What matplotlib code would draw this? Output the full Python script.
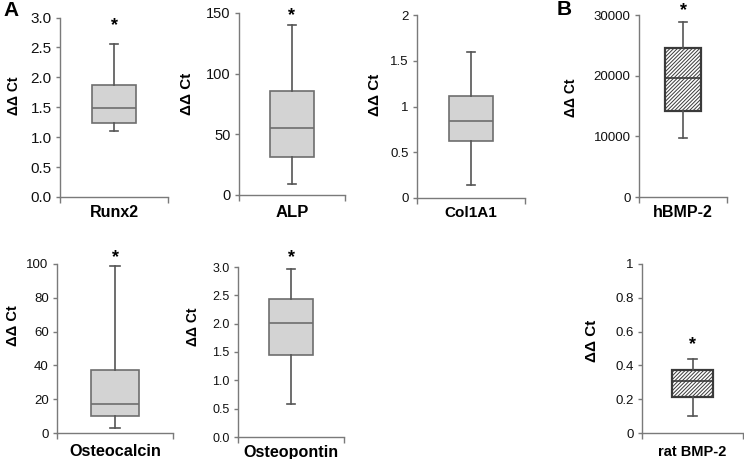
import matplotlib.pyplot as plt
import matplotlib.transforms as mtransforms
from matplotlib.ticker import MultipleLocator, FormatStrFormatter

plt.rcParams['font.family'] = ['Liberation Sans', 'DejaVu Sans']
plt.rcParams['hatch.linewidth'] = 0.7

# qPCR fold change (delta-delta Ct) box plots
genes = ["Runx2", "ALP", "Col1A1", "hBMP-2", "Osteocalcin", "Osteopontin", "rat BMP-2"]
whisker_low = [1.10, 9, 0.14, 9700, 3, 0.58, 0.10]
q1 = [1.23, 31, 0.62, 14200, 10, 1.45, 0.215]
median = [1.48, 55, 0.84, 19600, 17, 2.01, 0.31]
q3 = [1.87, 86, 1.12, 24500, 37, 2.44, 0.375]
whisker_high = [2.55, 140, 1.60, 28800, 99, 2.97, 0.44]
star_y = [2.93, 151.2, None, 31400, 106.2, 3.24, 0.547]
y_max = [3, 150, 2, 30000, 100, 3, 1]
y_step = [0.5, 50, 0.5, 10000, 20, 0.5, 0.2]
tick_fmt = ["%.1f", "%d", "%g", "%d", "%d", "%.1f", "%g"]
hatched = [False, False, False, True, False, False, True]

# panel boxes in pixels: left, top, right, bottom
W, H = 744, 459
rects = [(60, 17.5, 168, 197), (239, 13, 345, 195), (417, 15, 525, 198),
         (639, 15, 727, 197), (57, 264, 173, 433), (238, 267, 344, 437),
         (642, 264, 743, 433)]
ylab_xy = [(14, 96), (187, 94), (375, 95), (571, 98), (13, 326), (193, 327), (592, 341)]
xlab_base = [217, 217, 217, 217, 456.5, 456.5, 456.5]
tick_size = [11, 10.5, 9.5, 9.5, 9.5, 9, 9.5]
xlab_size = [11.5, 12, 11, 11.5, 11.7, 11.6, 10.5]
ylab_size = [10, 11, 11, 10, 10.5, 10, 11]

fig = plt.figure(figsize=(W / 100, H / 100), dpi=100)
axis_col = "#7a7a7a"

for i, gene in enumerate(genes):
    l, t, r, b = rects[i]
    ax = fig.add_axes([l / W, 1 - b / H, (r - l) / W, (b - t) / H])
    stats = [{"whislo": whisker_low[i], "q1": q1[i], "med": median[i],
              "q3": q3[i], "whishi": whisker_high[i], "fliers": []}]
    if hatched[i]:
        edge, face, lw = "#3a3a3a", "white", 1.6
    else:
        edge, face, lw = "#6e6e6e", "#d3d3d3", 1.2
    ax.bxp(stats, positions=[0], widths=0.41, capwidths=0.08,
           patch_artist=True, showfliers=False,
           boxprops=dict(facecolor=face, edgecolor=edge, linewidth=lw,
                         hatch="/////////" if hatched[i] else None),
           medianprops=dict(color=edge, linewidth=1.2),
           whiskerprops=dict(color="#555555", linewidth=1.2),
           capprops=dict(color="#555555", linewidth=1.2))
    ax.set_xlim(-0.5, 0.5)
    ax.set_ylim(0, y_max[i])
    ax.yaxis.set_major_locator(MultipleLocator(y_step[i]))
    ax.yaxis.set_major_formatter(FormatStrFormatter(tick_fmt[i]))
    ax.set_xticks([-0.5, 0.5])
    ax.set_xticklabels([])
    for side in ("top", "right"):
        ax.spines[side].set_visible(False)
    for side in ("left", "bottom"):
        ax.spines[side].set_color(axis_col)
        ax.spines[side].set_linewidth(1.0)
    ax.tick_params(axis="y", length=3, width=1, color=axis_col, pad=3,
                   labelsize=tick_size[i], labelcolor="#111111")
    ax.tick_params(axis="x", length=4, width=1, color=axis_col)

    ax.set_xlabel(gene, fontsize=xlab_size[i], fontweight="bold")
    ax.xaxis.set_label_coords(0.5, (b - xlab_base[i]) / (b - t))
    ax.xaxis.label.set_va("baseline")

    lx, ly = ylab_xy[i]
    ax.set_ylabel("ΔΔ Ct", fontsize=ylab_size[i], fontweight="bold")
    ax.yaxis.set_label_coords((lx - l) / (r - l), (b - ly) / (b - t))
    ax.yaxis.label.set_va("center")

    if star_y[i] is not None:
        trans = mtransforms.offset_copy(ax.transData, fig=fig, y=-3, units="points")
        ax.text(0, star_y[i], "*", ha="center", va="center", fontsize=13,
                fontweight="bold", clip_on=False, transform=trans)

fig.text(3 / W, 1 - 11 / H, "A", fontsize=15, fontweight="bold", va="center")
fig.text(557 / W, 1 - 9.5 / H, "B", fontsize=15, fontweight="bold", va="center")

fig.savefig("out.png", dpi=100)
